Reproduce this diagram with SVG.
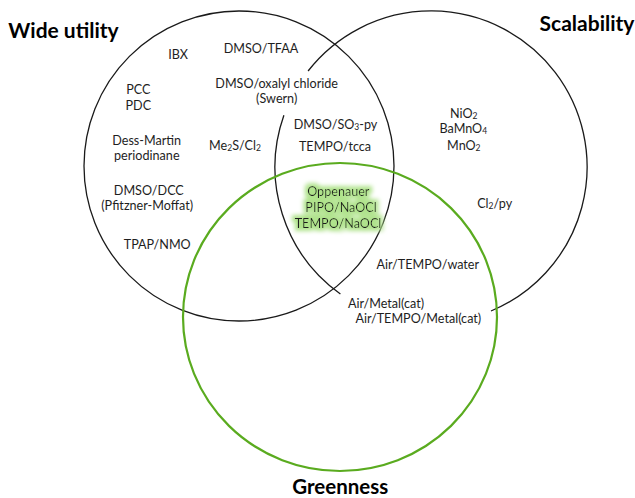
<svg xmlns="http://www.w3.org/2000/svg" width="635" height="498" viewBox="0 0 635 498">
<style>
.set{fill:none;stroke:#1a1a1a;stroke-width:1.3}
.green{fill:none;stroke:#5aab1f;stroke-width:2.2}
text{font-family:Lato,"Liberation Sans",sans-serif;fill:#1e1e1e;text-anchor:middle}
.lbl{font-size:12.6px}
.title{font-size:21px;font-weight:bold;fill:#000}
.sub{font-size:8.5px}
</style>
<defs>
<filter id="glow" x="-20%" y="-60%" width="140%" height="220%">
<feMorphology in="SourceAlpha" operator="dilate" radius="2.5" result="d"/>
<feGaussianBlur in="d" stdDeviation="2.2" result="b"/>
<feFlood flood-color="#aee28a"/>
<feComposite in2="b" operator="in" result="g"/>
<feMerge><feMergeNode in="g"/><feMergeNode in="SourceGraphic"/></feMerge>
</filter>
</defs>
<rect width="635" height="498" fill="#fff"/>
<g id="set-wide-utility">
<circle class="set" cx="239" cy="166" r="155"/>
<text class="title" x="63.5" y="37.5">Wide utility</text>
</g>
<g id="set-scalability">
<path class="set" d="M308.1 71.0 A156 156 0 1 1 491.0 311.0"/>
<path class="set" d="M340.4 294.0 A156 156 0 0 1 283.9 115.2"/>
<text class="title" x="587" y="31">Scalability</text>
</g>
<g id="set-greenness">
<ellipse class="green" cx="340" cy="317" rx="157" ry="154"/>
<text class="title" x="340.3" y="493.5" style="font-size:20.5px">Greenness</text>
</g>
<g id="connectors"></g>
<g id="wide-only">
<text class="lbl" x="178" y="59">IBX</text>
<text class="lbl" x="138.3" y="94">PCC</text>
<text class="lbl" x="138.3" y="110">PDC</text>
<text class="lbl" x="146.7" y="144.5">Dess-Martin</text>
<text class="lbl" x="146.8" y="159.5">periodinane</text>
<text class="lbl" x="148.8" y="195">DMSO/DCC</text>
<text class="lbl" x="147.2" y="210">(Pfitzner-Moffat)</text>
<text class="lbl" x="157.2" y="249.3">TPAP/NMO</text>
<text class="lbl" x="235" y="149.5">Me<tspan class="sub" dy="1">2</tspan><tspan dy="-1">S/Cl</tspan><tspan class="sub" dy="1">2</tspan></text>
</g>
<g id="wide-scal">
<text class="lbl" x="261" y="53">DMSO/TFAA</text>
<text class="lbl" x="276.7" y="88.3">DMSO/oxalyl chloride</text>
<text class="lbl" x="276.7" y="103.3">(Swern)</text>
<text class="lbl" x="335.5" y="129.3">DMSO/SO<tspan class="sub" dy="1">3</tspan><tspan dy="-1">-py</tspan></text>
<text class="lbl" x="335" y="150.5">TEMPO/tcca</text>
</g>
<g id="all-three" filter="url(#glow)">
<text class="lbl" x="338.3" y="195.5">Oppenauer</text>
<text class="lbl" x="341" y="211.7">PIPO/NaOCl</text>
<text class="lbl" x="338" y="227.7">TEMPO/NaOCl</text>
</g>
<g id="scal-only">
<text class="lbl" x="463.8" y="117.7">NiO<tspan class="sub" dy="1">2</tspan></text>
<text class="lbl" x="463.3" y="133.3">BaMnO<tspan class="sub" dy="1">4</tspan></text>
<text class="lbl" x="463.8" y="150">MnO<tspan class="sub" dy="1">2</tspan></text>
<text class="lbl" x="494.7" y="208.3">Cl<tspan class="sub" dy="1">2</tspan><tspan dy="-1">/py</tspan></text>
</g>
<g id="scal-green">
<text class="lbl" x="427.8" y="269.2">Air/TEMPO/water</text>
<text class="lbl" x="386" y="307.7">Air/Metal(cat)</text>
<text class="lbl" x="418.3" y="323.3">Air/TEMPO/Metal(cat)</text>
</g>
</svg>
